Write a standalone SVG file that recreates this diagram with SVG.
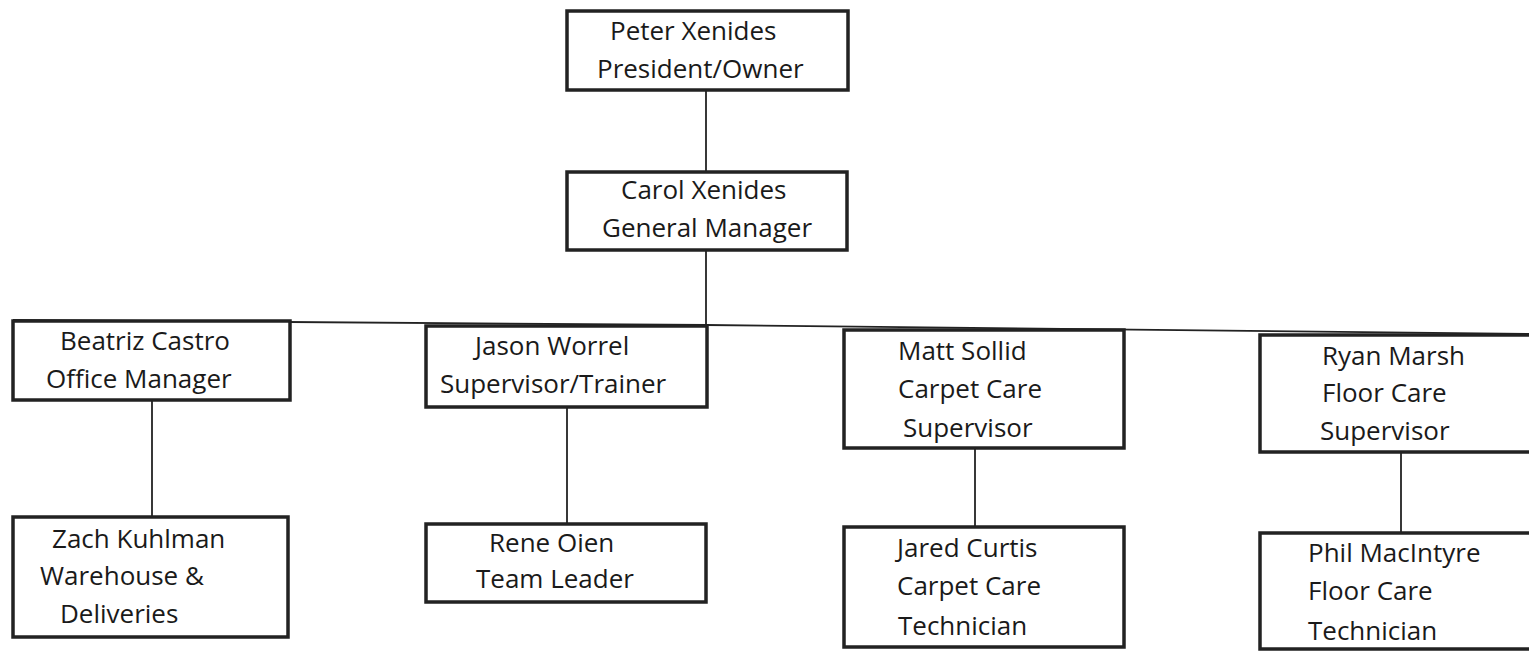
<svg xmlns="http://www.w3.org/2000/svg" width="1529" height="651" viewBox="0 0 1529 651">
<style>
.box{fill:#fff;stroke:#222;stroke-width:3.5}
.c{stroke:#222;stroke-width:1.8;fill:none}
text{font-family:"Open Sans","Liberation Sans",sans-serif;font-size:26px;fill:#1a1a1a}
</style>
<rect width="1529" height="651" fill="#fff"/>
<g id="connectors">
<line class="c" x1="706" y1="90" x2="706" y2="172"/>
<line class="c" x1="706" y1="250" x2="706" y2="325"/>
<polyline class="c" points="13,320 706,325 1529,334"/>
<line class="c" x1="152" y1="400" x2="152" y2="517"/>
<line class="c" x1="567" y1="407" x2="567" y2="524"/>
<line class="c" x1="975" y1="448" x2="975" y2="527"/>
<line class="c" x1="1401" y1="452" x2="1401" y2="533"/>
</g>
<g id="peter"><rect class="box" x="567" y="11" width="281" height="79"/>
<text x="610" y="40">Peter Xenides</text><text x="597" y="78">President/Owner</text></g>
<g id="carol"><rect class="box" x="567" y="172" width="280" height="78"/>
<text x="621" y="199">Carol Xenides</text><text x="602" y="237">General Manager</text></g>
<g id="beatriz"><rect class="box" x="13" y="321" width="277" height="79"/>
<text x="60" y="350">Beatriz Castro</text><text x="46" y="388">Office Manager</text></g>
<g id="jason"><rect class="box" x="426" y="326" width="281" height="81"/>
<text x="475" y="355">Jason Worrel</text><text x="440" y="393">Supervisor/Trainer</text></g>
<g id="matt"><rect class="box" x="844" y="330" width="280" height="118"/>
<text x="898" y="360">Matt Sollid</text><text x="898" y="398">Carpet Care</text><text x="903" y="437">Supervisor</text></g>
<g id="ryan"><rect class="box" x="1260" y="335" width="275" height="117"/>
<text x="1322" y="365">Ryan Marsh</text><text x="1322" y="402">Floor Care</text><text x="1320" y="440">Supervisor</text></g>
<g id="zach"><rect class="box" x="13" y="517" width="275" height="120"/>
<text x="52" y="548">Zach Kuhlman</text><text x="40" y="585">Warehouse &amp;</text><text x="60" y="623">Deliveries</text></g>
<g id="rene"><rect class="box" x="426" y="524" width="280" height="78"/>
<text x="489" y="552">Rene Oien</text><text x="476" y="588">Team Leader</text></g>
<g id="jared"><rect class="box" x="844" y="527" width="280" height="120"/>
<text x="897" y="557">Jared Curtis</text><text x="897" y="595">Carpet Care</text><text x="898" y="635">Technician</text></g>
<g id="phil"><rect class="box" x="1260" y="533" width="275" height="116"/>
<text x="1308" y="562">Phil MacIntyre</text><text x="1308" y="600">Floor Care</text><text x="1308" y="640">Technician</text></g>
</svg>
